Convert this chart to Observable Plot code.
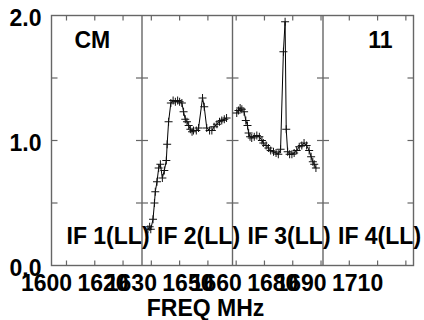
<!DOCTYPE html>
<html>
<head>
<meta charset="utf-8">
<script src="https://cdn.jsdelivr.net/npm/d3@7"></script>
<script src="https://cdn.jsdelivr.net/npm/@observablehq/plot@0.6"></script>
<style>
  html, body { margin: 0; padding: 0; background: #fff; }
</style>
</head>
<body>
<div id="chart"></div>
<script>
// ---- data ----
const ifEdges = [1594.7, 1626.7, 1658.7, 1690.7, 1722.7];
const ifLabels = ["IF 1(LL)", "IF 2(LL)", "IF 3(LL)", "IF 4(LL)"];
const sourceName = ["CM"];
const stokesLabel = ["11"];
const xTitle = ["FREQ MHz"];
const xTicks = [1600, 1610, 1620, 1630, 1640, 1650, 1660, 1670, 1680, 1690, 1700, 1710, 1720];
const xTickLabels = [1600, 1620, 1630, 1650, 1660, 1680, 1690, 1710];
const yTicks = [0.5, 1.0, 1.5];
const yTickLabels = [0, 1, 2];

const if2Freq = [1628.8, 1629.4, 1629.8, 1630.6, 1631.1, 1631.4, 1632.0, 1632.6, 1633.2, 1633.9,
                 1634.6, 1635.3, 1635.6, 1636.1, 1636.9, 1637.7, 1638.5, 1639.3, 1640.0, 1640.8,
                 1641.4, 1642.0, 1642.6, 1643.2, 1643.8, 1644.4, 1644.9, 1645.9, 1646.7, 1648.1,
                 1648.7, 1649.6, 1650.6, 1651.4, 1652.2, 1653.2, 1654.1, 1654.9, 1655.8, 1656.6];
const if2Amp  = [0.29, 0.31, 0.29, 0.37, 0.50, 0.59, 0.67, 0.78, 0.81, 0.70,
                 0.76, 0.84, 0.97, 1.15, 1.30, 1.32, 1.31, 1.32, 1.31, 1.30,
                 1.23, 1.17, 1.15, 1.12, 1.09, 1.07, 1.08, 1.08, 1.10, 1.34,
                 1.27, 1.10, 1.08, 1.08, 1.11, 1.13, 1.15, 1.16, 1.17, 1.18];

const if3Freq = [1660.2, 1660.8, 1661.4, 1662.0, 1662.8, 1663.4, 1664.0, 1664.4, 1664.9, 1665.5,
                 1666.4, 1667.3, 1668.2, 1669.1, 1669.6, 1670.6, 1671.4, 1672.2, 1673.2, 1674.1,
                 1674.9, 1675.7, 1676.7, 1677.3, 1677.7, 1678.2, 1678.9, 1679.7, 1680.5, 1681.4,
                 1682.3, 1683.2, 1684.0, 1684.9, 1685.8, 1686.5, 1687.1, 1687.6, 1688.2];
const if3Amp  = [1.22, 1.24, 1.26, 1.25, 1.23, 1.16, 1.12, 1.06, 1.03, 1.02,
                 1.03, 1.04, 1.03, 1.00, 0.98, 0.96, 0.94, 0.92, 0.91, 0.90,
                 0.89, 0.93, 1.71, 1.95, 1.09, 0.91, 0.89, 0.89, 0.90, 0.92,
                 0.95, 0.96, 0.98, 0.96, 0.92, 0.87, 0.83, 0.81, 0.78];

// ---- build table ----
const series = [
  ...if2Freq.map((f, i) => ({freq: f, amp: if2Amp[i], ifn: 2})),
  ...if3Freq.map((f, i) => ({freq: f, amp: if3Amp[i], ifn: 3}))
];

// custom glyphs
const plusSym  = {draw(c) { c.moveTo(-4, 0); c.lineTo(4, 0); c.moveTo(0, -4); c.lineTo(0, 4); }};
const tickRight = {draw(c) { c.moveTo(0, 0); c.lineTo(6, 0); }};
const tickLeft  = {draw(c) { c.moveTo(0, 0); c.lineTo(-6, 0); }};
const tickUp    = {draw(c) { c.moveTo(0, 0); c.lineTo(0, -5); }};
const tickDown  = {draw(c) { c.moveTo(0, 0); c.lineTo(0, 5); }};

const frameColor = "#666";
const font = "'Liberation Sans', Arial, sans-serif";
const narrowFont = "'Liberation Sans Narrow', 'Liberation Sans', Arial, sans-serif";

const chart = Plot.plot({
  width: 424,
  height: 320,
  marginLeft: 51,
  marginRight: 11,
  marginTop: 15,
  marginBottom: 55,
  style: {background: "#fff", fontFamily: font, color: "#000"},
  x: {domain: [ifEdges[0], ifEdges[ifEdges.length - 1]]},
  y: {domain: [0, 2]},
  marks: [
    Plot.frame({stroke: frameColor, strokeWidth: 1.4}),
    Plot.ruleX(ifEdges.slice(1, -1), {stroke: frameColor, strokeWidth: 1.4}),
    // inward y ticks on each panel edge
    Plot.dot(d3.cross(ifEdges.slice(0, -1), yTicks), {x: d => d[0], y: d => d[1], symbol: tickRight, stroke: frameColor, strokeWidth: 1.2, fill: "none"}),
    Plot.dot(d3.cross(ifEdges.slice(1), yTicks), {x: d => d[0], y: d => d[1], symbol: tickLeft, stroke: frameColor, strokeWidth: 1.2, fill: "none"}),
    // inward x ticks top & bottom
    Plot.dot(xTicks, {x: d => d, frameAnchor: "bottom", symbol: tickUp, stroke: frameColor, strokeWidth: 1.2, fill: "none"}),
    Plot.dot(xTicks, {x: d => d, frameAnchor: "top", symbol: tickDown, stroke: frameColor, strokeWidth: 1.2, fill: "none"}),
    // axis labels
    Plot.axisX(xTickLabels, {anchor: "bottom", tickSize: 0, tickPadding: 9, dx: -20, label: null,
      tickFormat: d => String(d), fontSize: 23, fontWeight: "bold", fontFamily: narrowFont, fill: "#000"}),
    Plot.axisY(yTickLabels, {anchor: "left", tickSize: 0, tickPadding: 10, dy: 3, label: null,
      tickFormat: d => d.toFixed(1), fontSize: 23, fontWeight: "bold", fill: "#000"}),
    Plot.text(xTitle, {frameAnchor: "bottom", dx: -27, dy: 43, lineAnchor: "middle", fontSize: 23, fontWeight: "bold", fill: "#000"}),
    // panel labels
    Plot.text(ifLabels, {x: (d, i) => ifEdges[i], frameAnchor: "bottom", textAnchor: "start", dx: 15, dy: -29,
      lineAnchor: "middle", fontSize: 23, fontWeight: "bold", fill: "#000"}),
    Plot.text(sourceName, {x: () => ifEdges[0], frameAnchor: "top", textAnchor: "start", dx: 23, dy: 25,
      lineAnchor: "middle", fontSize: 23, fontWeight: "bold", fill: "#000"}),
    Plot.text(stokesLabel, {x: () => ifEdges[ifEdges.length - 1], frameAnchor: "top", textAnchor: "end", dx: -21, dy: 25,
      lineAnchor: "middle", fontSize: 23, fontWeight: "bold", fill: "#000"}),
    // data
    Plot.line(series, {x: "freq", y: "amp", z: "ifn", stroke: "#000", strokeWidth: 1}),
    Plot.dot(series, {x: "freq", y: "amp", symbol: plusSym, stroke: "#111", strokeWidth: 1, fill: "none"})
  ]
});
document.getElementById("chart").appendChild(chart);
</script>
</body>
</html>
